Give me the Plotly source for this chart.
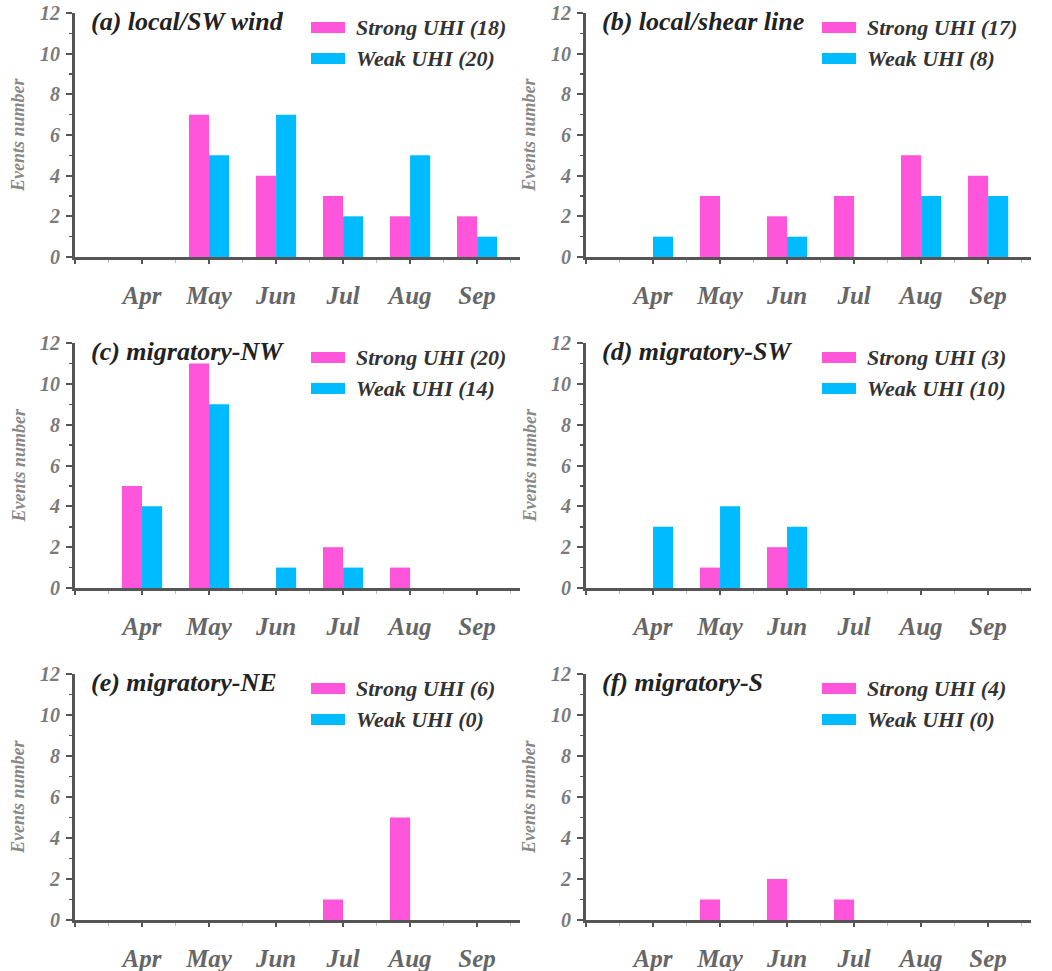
import plotly.graph_objects as go

# ---------------- data ----------------
months = ["Apr", "May", "Jun", "Jul", "Aug", "Sep"]
panel_titles = ["(a) local/SW wind", "(b) local/shear line", "(c) migratory-NW",
                "(d) migratory-SW", "(e) migratory-NE", "(f) migratory-S"]

strong_a = [0, 7, 4, 3, 2, 2]
weak_a = [0, 5, 7, 2, 5, 1]
strong_b = [0, 3, 2, 3, 5, 4]
weak_b = [1, 0, 1, 0, 3, 3]
strong_c = [5, 11, 0, 2, 1, 0]
weak_c = [4, 9, 1, 1, 0, 0]
strong_d = [0, 1, 2, 0, 0, 0]
weak_d = [3, 4, 3, 0, 0, 0]
strong_e = [0, 0, 0, 1, 5, 0]
weak_e = [0, 0, 0, 0, 0, 0]
strong_f = [0, 1, 2, 1, 0, 0]
weak_f = [0, 0, 0, 0, 0, 0]

strong_totals = [18, 17, 20, 3, 6, 4]
weak_totals = [20, 8, 14, 10, 0, 0]

y_ticks = [0, 2, 4, 6, 8, 10, 12]

strong_series = [strong_a, strong_b, strong_c, strong_d, strong_e, strong_f]
weak_series = [weak_a, weak_b, weak_c, weak_d, weak_e, weak_f]

# ---------------- style ----------------
W, H = 1052, 971
PINK = "#FF55DB"
BLUE = "#00BBFF"
AXC = "#555555"
FONT = "Liberation Serif, Times New Roman, Times, serif"

col_x0 = [75, 586]
col_w = 445
row_top = [13, 343, 674]
row_bot = [257, 588, 920]


def px(x):
    return x / W


def py(y):
    return 1 - y / H


fig = go.Figure()
layout = dict(
    template="none",
    width=W, height=H,
    margin=dict(l=0, r=0, t=0, b=0, autoexpand=False),
    paper_bgcolor="white", plot_bgcolor="white",
    barmode="group", bargap=0.4, bargroupgap=0,
    showlegend=False,
    font=dict(family=FONT),
)
shapes = []
annotations = []
xidx = list(range(len(months)))

for i in range(6):
    r, c = divmod(i, 2)
    n = "" if i == 0 else str(i + 1)
    xa, ya = "x" + n, "y" + n
    x0 = col_x0[c]
    top, bot = row_top[r], row_bot[r]

    fig.add_trace(go.Bar(x=xidx, y=strong_series[i], marker_color=PINK,
                         marker_line_width=0, xaxis=xa, yaxis=ya,
                         name="Strong UHI (%d)" % strong_totals[i]))
    fig.add_trace(go.Bar(x=xidx, y=weak_series[i], marker_color=BLUE,
                         marker_line_width=0, xaxis=xa, yaxis=ya,
                         name="Weak UHI (%d)" % weak_totals[i]))

    layout["xaxis" + n] = dict(
        domain=[px(x0), px(x0 + col_w)], anchor=ya, automargin=False,
        range=[-1, 5.64], showgrid=False, zeroline=False,
        showline=True, linecolor=AXC, linewidth=3,
        tickmode="array", tickvals=[-1] + xidx, ticktext=[""] + months,
        ticks="outside", ticklen=4, tickwidth=2, tickcolor=AXC,
        tickfont=dict(family=FONT, size=25, color="#666666",
                      weight="bold", style="italic"),
        ticklabelstandoff=10,
        minor=dict(tickmode="array", tickvals=[v + 0.5 for v in [-1] + xidx],
                   ticks="outside", ticklen=3, tickwidth=1.5, tickcolor="#BBBBBB",
                   showgrid=False),
        fixedrange=True,
    )
    layout["yaxis" + n] = dict(
        domain=[py(bot), py(top)], anchor=xa, automargin=False,
        range=[0, 12], showgrid=False, zeroline=False,
        showline=True, linecolor=AXC, linewidth=3,
        tickmode="array", tickvals=y_ticks,
        ticks="outside", ticklen=6, tickwidth=2, tickcolor=AXC,
        tickfont=dict(family=FONT, size=20, color="#7A7A7A",
                      weight="bold", style="italic"),
        ticklabelstandoff=2,
        minor=dict(dtick=1, ticks="outside", ticklen=3, tickwidth=1.5,
                   tickcolor=AXC, showgrid=False),
        fixedrange=True,
    )

    # panel title
    annotations.append(dict(
        x=px(x0 + 14), y=py(top + 8), xref="paper", yref="paper",
        xanchor="left", yanchor="middle", showarrow=False,
        text=panel_titles[i],
        font=dict(family=FONT, size=26, color="#222222", weight="bold", style="italic"),
    ))
    # y-axis title
    annotations.append(dict(
        x=px(x0 - 57), y=py((top + bot) / 2), xref="paper", yref="paper",
        xanchor="center", yanchor="middle", showarrow=False, textangle=-90,
        text="Events number",
        font=dict(family=FONT, size=18, color="#888888", weight="bold", style="italic"),
    ))
    # legend
    for k, (col, label) in enumerate([(PINK, "Strong UHI (%d)" % strong_totals[i]),
                                      (BLUE, "Weak UHI (%d)" % weak_totals[i])]):
        ys0 = top + 9 + 31 * k
        shapes.append(dict(type="rect", xref="paper", yref="paper",
                           x0=px(x0 + 236), x1=px(x0 + 270),
                           y0=py(ys0 + 11), y1=py(ys0),
                           fillcolor=col, line=dict(width=0)))
        annotations.append(dict(
            x=px(x0 + 279), y=py(ys0 + 5.5), xref="paper", yref="paper",
            xanchor="left", yanchor="middle", showarrow=False, text=label,
            font=dict(family=FONT, size=22, color="#333333", weight="bold", style="italic"),
        ))

layout["shapes"] = shapes
layout["annotations"] = annotations
fig.update_layout(**layout)
fig.write_html("out.html",
               config={"displayModeBar": False, "staticPlot": True},
               post_script="document.body.style.margin='0';document.body.style.overflow='hidden';")
